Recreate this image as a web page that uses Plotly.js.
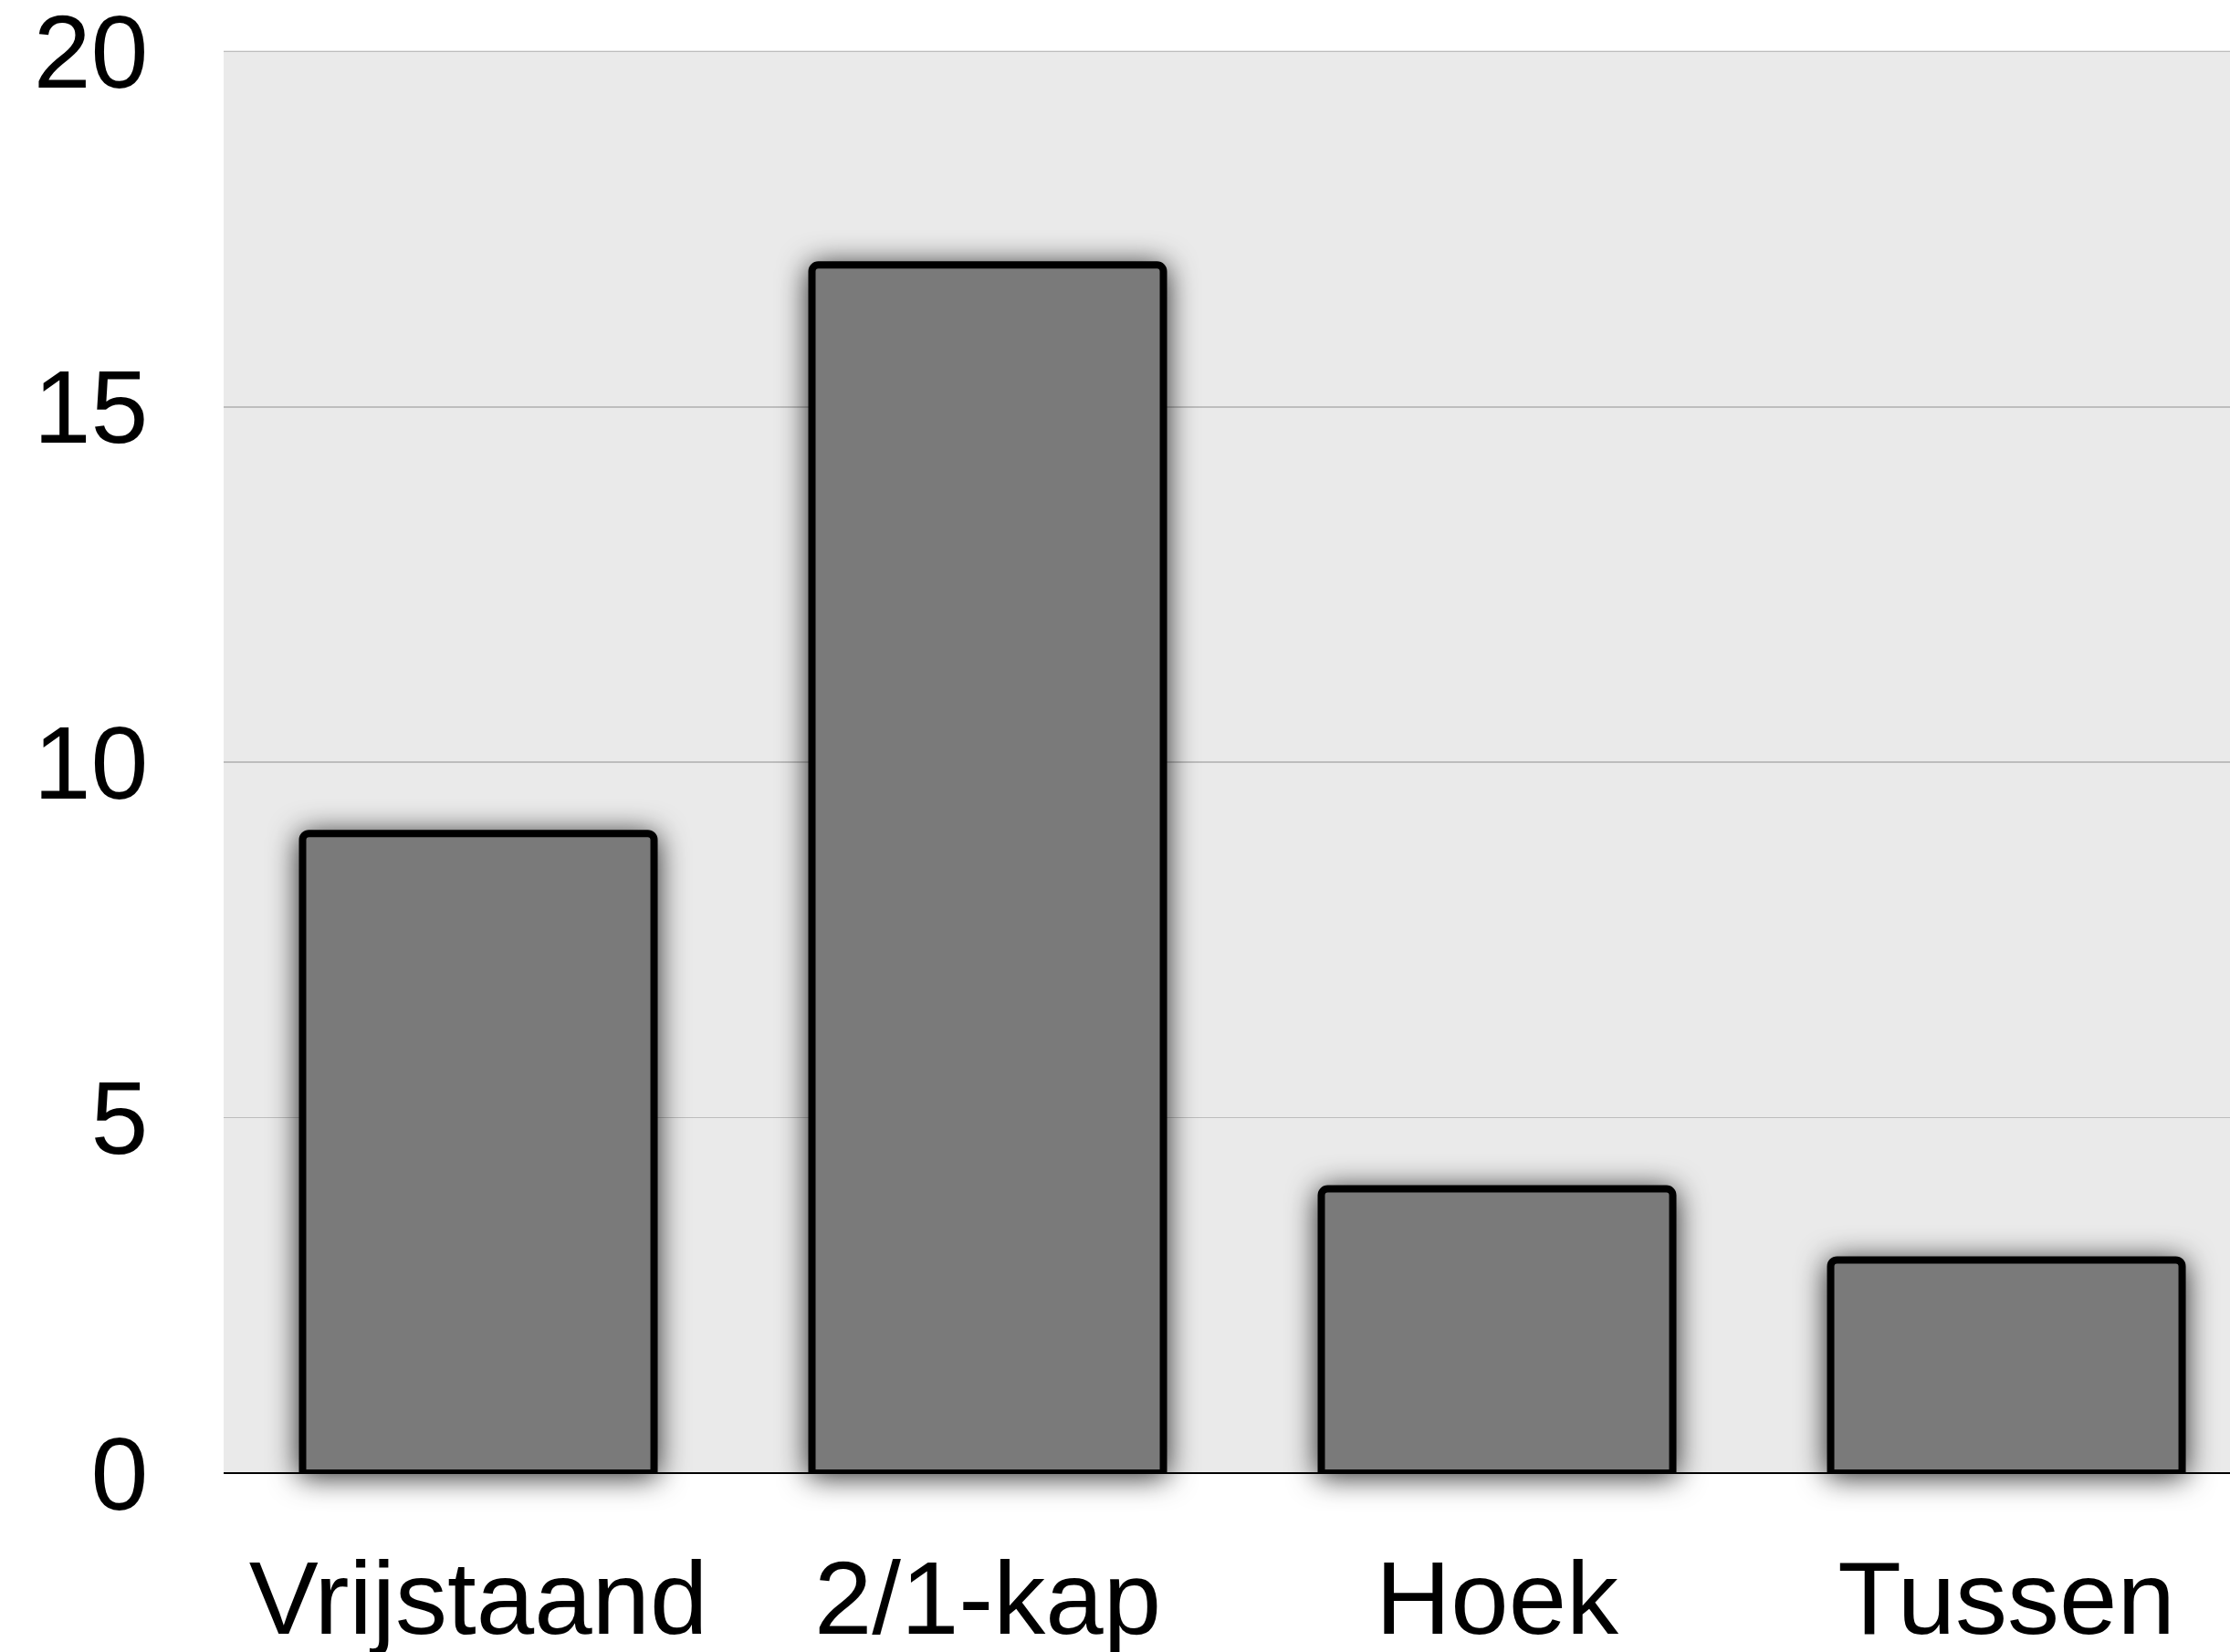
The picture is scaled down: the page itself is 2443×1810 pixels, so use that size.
<!DOCTYPE html>
<html>
<head>
<meta charset="utf-8">
<script src="https://cdn.plot.ly/plotly-3.0.1.min.js"></script>
<style>
  html, body { margin: 0; padding: 0; background: #ffffff; }
  #chart { width: 2443px; height: 1810px; }
  .barlayer .trace.bars { filter: drop-shadow(0px 4px 16px rgba(0,0,0,0.85)); }
</style>
</head>
<body>
<div id="chart"></div>
<script>
const categories = ["Vrijstaand", "2/1-kap", "Hoek", "Tussen"];
const counts = [9, 17, 4, 3];
const yTickValues = [0, 5, 10, 15, 20];
const yTickLabels = ["0", "5", "10", "15", "20"];

const trace = {
  type: "bar",
  x: categories,
  y: counts,
  width: 0.69,
  cliponaxis: false,
  marker: {
    color: "#7a7a7a",
    line: { color: "#000000", width: 8 },
    cornerradius: 7
  },
  hoverinfo: "x+y"
};

const layout = {
  width: 2443,
  height: 1810,
  margin: { l: 245, r: 0, t: 55, b: 196, pad: 0 },
  paper_bgcolor: "#ffffff",
  plot_bgcolor: "#eaeaea",
  showlegend: false,
  font: { family: "Liberation Sans, Arial, sans-serif", color: "#000000", size: 115 },
  xaxis: {
    type: "category",
    range: [-0.5, 3.439],
    showgrid: false,
    zeroline: false,
    showline: false,
    ticks: "outside",
    ticklen: 38,
    tickcolor: "rgba(0,0,0,0)",
    ticklabeloverflow: "allow",
    tickfont: { size: 114, family: "Liberation Sans, Arial, sans-serif", color: "#000000" },
    fixedrange: true
  },
  yaxis: {
    range: [0, 20.02],
    tickmode: "array",
    tickvals: yTickValues,
    ticktext: yTickLabels,
    showgrid: true,
    gridcolor: "#bdbdbd",
    gridwidth: 1.6,
    zeroline: true,
    zerolinecolor: "#000000",
    zerolinewidth: 2.5,
    showline: false,
    ticks: "outside",
    ticklen: 59,
    tickcolor: "rgba(0,0,0,0)",
    ticklabeloverflow: "allow",
    tickfont: { size: 113, family: "Liberation Sans, Arial, sans-serif", color: "#000000" },
    fixedrange: true
  },
  bargap: 0.31
};

Plotly.newPlot("chart", [trace], layout, { displayModeBar: false, staticPlot: true });
</script>
</body>
</html>
